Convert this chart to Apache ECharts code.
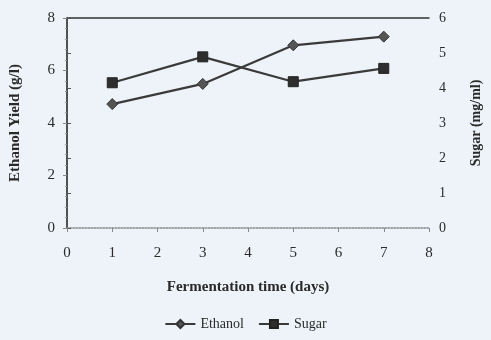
<!DOCTYPE html>
<html><head><meta charset="utf-8">
<script src="https://cdn.jsdelivr.net/npm/echarts@6/dist/echarts.min.js"></script>
<style>html,body{margin:0;padding:0;background:#edf3f8;}#c{width:491px;height:340px;}</style>
</head><body><div id="c"></div>
<script>
const days = [1, 3, 5, 7];
const ethanol = [4.72, 5.49, 6.96, 7.29];
const sugar = [4.15, 4.89, 4.18, 4.56];
const xTicks = [0, 1, 2, 3, 4, 5, 6, 7, 8];
const leftTicks = [0, 2, 4, 6, 8];
const rightTicks = [0, 1, 2, 3, 4, 5, 6];

const font = 'Liberation Serif';
const txt = '#2a2a2a';
const chart = echarts.init(document.getElementById('c'));
chart.setOption({
  backgroundColor: '#edf3f8',
  animation: false,
  grid: {left: 63, right: 49, top: 18, bottom: 112},
  legend: {
    bottom: 4, left: 'center', itemWidth: 30, itemHeight: 10, itemGap: 14,
    textStyle: {fontFamily: font, fontSize: 14, color: txt},
    data: ['Ethanol', 'Sugar']
  },
  xAxis: [{
    type: 'value', min: 0, max: 8, interval: 1,
    name: 'Fermentation time (days)', nameLocation: 'middle', nameGap: 52,
    nameTextStyle: {fontFamily: font, fontSize: 15, fontWeight: 'bold', color: txt},
    axisLine: {lineStyle: {color: '#888', type: 'dotted', width: 1.5}},
    axisTick: {show: true, length: 4, lineStyle: {color: '#888'}},
    axisLabel: {fontFamily: font, fontSize: 15, color: txt, margin: 18,
      formatter: v => xTicks.includes(v) ? String(v) : ''},
    splitLine: {show: false}
  }, {
    type: 'value', min: 0, max: 8, position: 'top',
    axisLine: {show: true, onZero: false, lineStyle: {color: '#333', width: 1.5}},
    axisTick: {show: false}, axisLabel: {show: false}, splitLine: {show: false}
  }],
  yAxis: [{
    type: 'value', min: 0, max: 8, interval: 2,
    name: 'Ethanol Yield (g/l)', nameLocation: 'middle', nameGap: 44, nameRotate: 90,
    nameTextStyle: {fontFamily: font, fontSize: 15, fontWeight: 'bold', color: txt},
    axisLine: {show: true, lineStyle: {color: '#888', type: 'dotted', width: 1.5}},
    axisTick: {show: true, length: 4, lineStyle: {color: '#888'}},
    minorTick: {show: true, splitNumber: 5, length: 2, lineStyle: {color: '#999'}},
    axisLabel: {fontFamily: font, fontSize: 15, color: txt, margin: 12,
      formatter: v => leftTicks.includes(v) ? String(v) : ''},
    splitLine: {show: false}
  }, {
    type: 'value', min: 0, max: 6, interval: 1, position: 'right',
    name: 'Sugar (mg/ml)', nameLocation: 'middle', nameGap: 40, nameRotate: 90,
    nameTextStyle: {fontFamily: font, fontSize: 14, fontWeight: 'bold', color: txt},
    axisLine: {show: true, lineStyle: {color: '#333', width: 1.5}},
    axisTick: {show: true, length: 4, lineStyle: {color: '#555'}},
    axisLabel: {fontFamily: font, fontSize: 14, color: txt, margin: 10,
      formatter: v => rightTicks.includes(v) ? String(v) : ''},
    splitLine: {show: false}
  }],
  series: [{
    name: 'Ethanol', type: 'line', xAxisIndex: 0, yAxisIndex: 0,
    data: days.map((d, i) => [d, ethanol[i]]),
    symbol: 'diamond', symbolSize: 11,
    lineStyle: {color: '#3a3a3a', width: 2.2},
    itemStyle: {color: '#555', borderColor: '#333', borderWidth: 1}
  }, {
    name: 'Sugar', type: 'line', xAxisIndex: 0, yAxisIndex: 1,
    data: days.map((d, i) => [d, sugar[i]]),
    symbol: 'rect', symbolSize: 10,
    lineStyle: {color: '#3a3a3a', width: 2.2},
    itemStyle: {color: '#2e2e2e', borderColor: '#222', borderWidth: 1}
  }]
});
</script></body></html>
